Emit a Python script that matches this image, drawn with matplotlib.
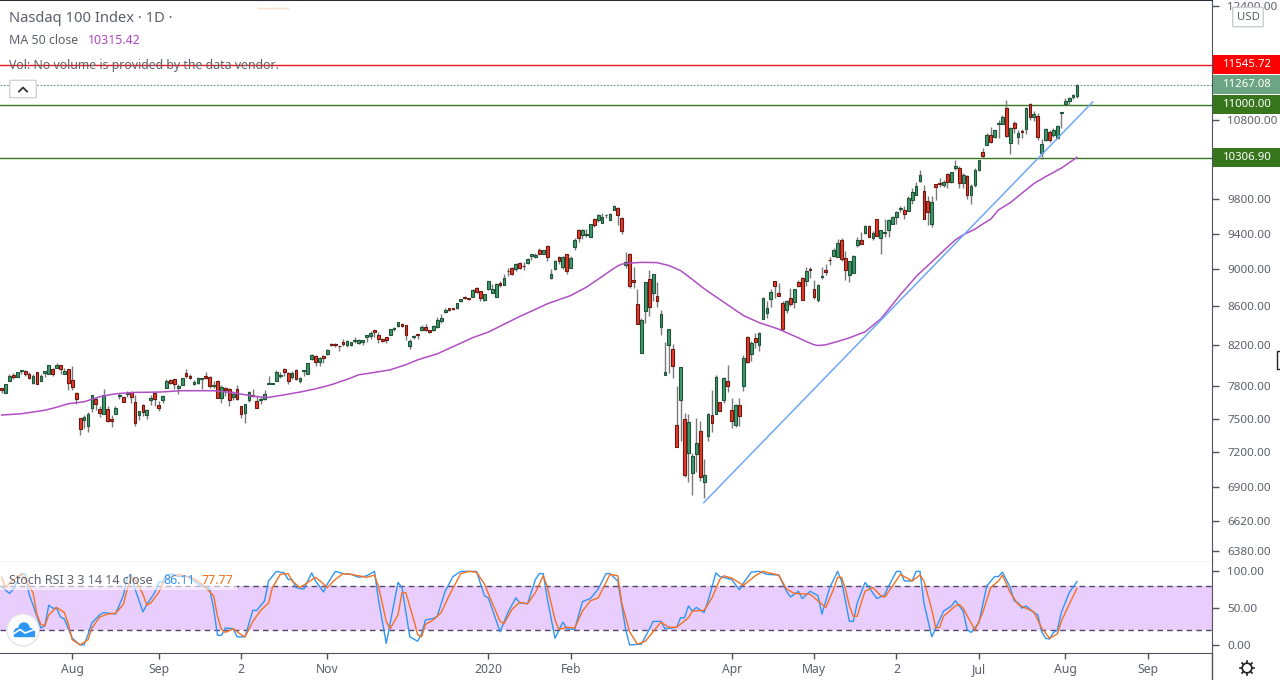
import matplotlib
matplotlib.use("Agg")
import matplotlib.pyplot as plt
import matplotlib.patches as patches
from matplotlib.ticker import FixedLocator, FixedFormatter, NullLocator

plt.rcParams['font.family'] = ['Noto Sans', 'DejaVu Sans']

# daily candles, prices
opens = [7783,7738,7857,7909,7895,7953,7947,7919,7838,7938,
    7848,7934,7915,7967,7982,8006,7915,7967,7861,7738,
    7506,7484,7429,7594,7681,7588,7545,7588,7497,7539,
    7708,7697,7727,7747,7654,7533,7626,7533,7669,7738,
    7626,7669,7790,7861,7871,7781,7813,7928,7899,7823,
    7838,7871,7899,7890,7800,7851,7694,7785,7775,7700,
    7772,7616,7548,7669,7722,7663,7672,7678,7827,7819,
    7857,7905,7967,7928,7895,7957,7848,7947,7919,8065,
    8095,8041,8095,8111,8214,8214,8197,8234,8204,8200,
    8240,8224,8230,8284,8295,8355,8305,8264,8284,8305,
    8365,8395,8416,8405,8190,8284,8315,8361,8385,8355,
    8361,8382,8453,8540,8582,8588,8582,8655,8698,8694,
    8704,8794,8762,8672,8790,8747,8704,8848,8832,8981,
    9011,9000,9066,9036,9072,9150,9139,9211,9173,9256,
    8902,9003,9132,9028,9166,9017,9251,9437,9387,9384,
    9365,9569,9561,9526,9612,9561,9674,9694,9577,9043,
    9169,8880,8624,8124,8557,8891,8740,8708,8382,7910,
    8200,8164,7441,7669,7496,7188,7015,7180,7387,6941,
    7339,7533,7539,7654,7669,7851,7579,7438,7626,7809,
    8284,8120,8274,8200,8474,8536,8683,8869,8740,8634,
    8567,8687,8651,8858,8902,8869,9000,8783,8672,8913,
    8989,9102,9150,9139,9323,9121,8937,8962,9274,9323,
    9403,9484,9353,9565,9353,9403,9437,9514,9589,9682,
    9670,9666,9797,9849,10026,9897,9778,9511,9983,9995,
    9967,10104,10006,10186,10178,9995,10080,9849,9970,10157,
    10380,10476,10596,10579,10740,10744,10950,10493,10752,10579,
    10648,10674,11004,10840,10845,10374,10532,10635,10596,10566,
    10885,11012,11045,11099,11113]
closes = [7769,7823,7902,7890,7938,7957,7915,7881,7902,7819,
    7902,7947,8006,7915,8006,7973,7947,7838,7791,7678,
    7402,7515,7542,7719,7632,7548,7719,7475,7475,7598,
    7716,7650,7735,7700,7460,7570,7558,7579,7691,7681,
    7594,7710,7851,7838,7819,7804,7881,7905,7886,7842,
    7881,7881,7883,7809,7813,7694,7794,7762,7669,7733,
    7678,7539,7635,7747,7714,7594,7678,7728,7835,7833,
    7938,7909,7938,7857,7928,7867,7881,7957,8025,8105,
    8035,8075,8071,8154,8200,8200,8191,8210,8244,8230,
    8254,8254,8254,8305,8325,8331,8270,8250,8260,8365,
    8375,8436,8395,8305,8244,8297,8305,8385,8355,8341,
    8395,8457,8478,8561,8564,8571,8634,8676,8687,8683,
    8773,8758,8694,8730,8869,8783,8837,8829,8902,8975,
    8952,9061,9017,9030,9117,9166,9158,9173,9211,9135,
    8945,9088,9094,9132,8984,9121,9327,9350,9437,9392,
    9507,9499,9612,9589,9618,9624,9721,9619,9433,9077,
    8822,8865,8422,8457,8865,8592,8945,8662,8519,7938,
    8365,7994,7249,7986,7006,7469,7165,7280,6981,7001,
    7545,7460,7890,7573,7881,7800,7475,7626,7520,8075,
    8041,8224,8230,8325,8687,8582,8751,8822,8715,8368,
    8655,8630,8783,8822,8666,8978,8989,8704,8826,8924,
    8974,9098,9211,9289,9110,8989,9088,9147,9323,9285,
    9484,9365,9403,9376,9437,9415,9553,9589,9647,9694,
    9624,9813,9892,9958,10092,9572,9654,9766,9946,9979,
    10006,10006,10129,10203,9995,10092,9849,9958,10153,10282,
    10333,10596,10514,10661,10757,10832,10592,10688,10696,10622,
    10635,10950,10832,10871,10571,10481,10674,10532,10661,10713,
    10898,11045,11085,11126,11267]
highs = [7785,7823,7919,7931,7938,7957,7960,7938,7919,7938,
    7915,7947,8006,7977,8022,8006,7977,7967,7996,7747,
    7506,7536,7561,7719,7697,7619,7778,7616,7536,7619,
    7738,7703,7754,7760,7722,7570,7635,7588,7722,7738,
    7666,7722,7871,7871,7871,7823,7881,7970,7919,7861,
    7890,7881,7938,7899,7851,7861,7813,7794,7785,7754,
    7813,7616,7635,7757,7775,7719,7700,7766,7899,7833,
    7957,7938,7977,7938,7947,7967,7890,7957,8025,8115,
    8105,8085,8105,8164,8220,8224,8197,8264,8254,8230,
    8284,8264,8254,8305,8345,8355,8338,8274,8284,8365,
    8389,8436,8426,8405,8264,8305,8315,8405,8416,8355,
    8405,8491,8519,8582,8582,8588,8634,8676,8709,8694,
    8783,8805,8762,8730,8869,8837,8848,8869,8945,9011,
    9022,9072,9077,9077,9128,9166,9177,9233,9211,9267,
    9000,9099,9143,9143,9166,9143,9346,9449,9449,9449,
    9507,9577,9624,9635,9628,9639,9733,9706,9589,9192,
    9177,9025,8786,8484,8865,8992,8945,8858,8561,8234,
    8365,8214,7807,7986,7552,7545,7195,7509,7478,7139,
    7552,7769,7909,7654,7890,8006,7691,7635,7691,8105,
    8294,8244,8325,8335,8698,8659,8783,8869,8851,8659,
    8666,8794,8783,8880,8913,9022,9022,8880,8837,9022,
    9055,9132,9233,9335,9346,9199,9088,9154,9358,9415,
    9495,9495,9426,9565,9437,9565,9565,9604,9659,9721,
    9718,9837,9934,10006,10157,9970,9837,9837,9983,10055,
    10030,10116,10129,10282,10203,10116,10092,9982,10178,10282,
    10430,10622,10709,10661,10796,10858,11062,10701,10779,10661,
    10674,10972,11018,10911,10885,10545,10687,10661,10687,10726,
    10898,11085,11099,11140,11279]
lows = [7741,7738,7848,7871,7890,7919,7902,7874,7823,7819,
    7848,7890,7915,7905,7977,7922,7915,7762,7762,7632,
    7348,7417,7375,7564,7576,7517,7545,7469,7420,7539,
    7681,7650,7700,7644,7429,7490,7520,7496,7628,7613,
    7570,7644,7790,7826,7775,7728,7813,7881,7871,7813,
    7823,7778,7871,7785,7785,7688,7640,7710,7613,7675,
    7669,7502,7457,7654,7703,7594,7638,7675,7823,7819,
    7857,7881,7905,7823,7871,7861,7838,7905,7919,8058,
    7999,8002,8031,8105,8190,8187,8150,8197,8187,8194,
    8227,8214,8200,8234,8264,8287,8220,8230,8220,8305,
    8348,8389,8389,8260,8160,8264,8264,8351,8345,8328,
    8351,8375,8432,8530,8554,8564,8571,8645,8683,8669,
    8704,8740,8662,8662,8779,8740,8704,8811,8826,8926,
    8941,8978,9000,8989,9055,9102,9128,9166,9173,9094,
    8891,8989,9055,9006,8952,9017,9217,9301,9342,9365,
    9365,9480,9537,9526,9577,9561,9671,9499,9395,9014,
    8797,8797,8422,8124,8432,8505,8662,8599,8310,7910,
    7934,7886,7241,7294,6981,6946,6829,7024,6953,6808,
    7294,7375,7539,7566,7640,7750,7411,7420,7429,7754,
    8029,8048,8174,8150,8467,8478,8599,8687,8715,8358,
    8536,8609,8588,8811,8666,8822,8902,8676,8651,8891,
    8934,9044,9139,9139,9094,8880,8858,8956,9244,9285,
    9395,9358,9323,9376,9172,9358,9365,9507,9507,9647,
    9572,9659,9749,9849,10014,9565,9495,9480,9789,9946,
    9946,9934,9994,10157,9934,9934,9801,9742,9946,10148,
    10304,10476,10501,10562,10566,10740,10579,10361,10631,10489,
    10566,10618,10792,10779,10532,10298,10519,10514,10579,10553,
    10696,10991,10991,11072,11085]

# moving average, read at the bends
ma_bars = [0,5,11,14,17,21,25,28,30,34,40,46,54,59,62,65,68,71,76,80,84,88,91,95,99,103,106,111,117,120,124,128,132,136,
    139,145,149,153,155,157,158,160,163,167,170,173,176,178,180,185,189,193,198,203,205,207,208,210,213,216,220,224,
    226,229,231,233,236,238,240,243,245,248,250,252,254,257,261,263,266,270,274]
ma_vals = [7533,7545,7577,7605,7638,7656,7703,7725,7734,7744,7747,7760,7760,7741,7722,7703,7697,7715,7747,7778,7817,7868,
    7912,7935,7960,8010,8058,8117,8224,8278,8335,8415,8495,8570,8627,8715,8805,8919,8980,9036,9055,9066,9075,9072,
    9040,8984,8888,8820,8758,8617,8505,8432,8365,8277,8240,8207,8200,8207,8240,8277,8338,8470,
    8570,8724,8820,8919,9040,9121,9205,9327,9385,9450,9510,9565,9674,9760,9913,9990,10075,10180,10315]

# stochastic rsi
k_bars = [0,2,3,5,6,7,9,10,11,12,13,14,15,16,18,20,21,22,23,25,26,29,31,32,33,34,36,37,39,40,41,42,44,45,47,49,51,53,
    54,55,56,57,59,60,62,64,65,67,68,70,72,73,74,75,77,79,80,82,83,85,87,89,91,93,95,96,98,101,102,104,106,107,
    108,110,111,113,115,117,121,123,124,127,129,131,132,134,136,137,138,139,141,143,144,146,148,150,152,154,155,157,
    159,160,163,165,166,168,169,172,173,174,175,176,177,179,180,182,183,186,188,189,191,193,195,198,200,201,203,204,
    206,208,209,211,213,214,215,216,217,218,220,221,223,225,226,228,229,230,232,233,234,235,237,239,240,242,243,245,
    246,247,249,251,253,254,255,257,258,259,260,261,263,264,265,266,267,268,269,270,272,274]
k_vals = [79,70,76,97,96,69,39,23,26,54,50,50,38,35,9,0,0,14,30,41,44,42,67,92,96,76,45,55,71,85,86,96,96,93,94,87,80,76,
    50,13,13,23,22,11,11,47,47,60,87,100,98,89,89,78,76,98,87,72,83,100,97,96,92,94,100,62,2,85,78,11,5,15,
    34,36,39,73,93,100,100,67,64,18,44,64,57,56,89,97,97,64,9,31,22,21,59,63,76,97,97,87,
    21,0,1,21,32,32,22,24,37,37,53,46,51,44,60,98,93,89,75,84,99,100,96,95,73,65,73,63,
    73,67,42,78,100,87,60,32,32,57,85,78,63,68,80,100,100,87,87,100,100,57,11,34,46,53,60,46,
    21,17,30,80,93,93,99,78,60,57,50,53,44,41,18,9,8,17,20,44,71,86]
d_bars = [0,1,3,5,6,8,9,10,11,12,14,16,17,18,20,22,23,25,27,29,31,32,33,34,36,37,38,40,41,42,45,47,49,51,54,55,56,57,
    59,61,62,64,66,68,69,71,73,74,76,78,80,82,83,85,87,89,91,93,95,96,98,99,101,102,103,105,106,107,
    108,110,112,114,116,117,119,121,123,125,127,128,130,132,134,136,138,139,141,142,144,146,148,150,152,154,155,157,
    158,160,162,164,166,168,170,172,175,176,179,181,183,184,186,189,192,194,198,200,202,206,208,210,212,213,
    214,215,216,217,218,219,220,222,224,225,227,229,232,234,235,237,238,239,240,243,244,245,247,248,250,252,254,255,
    257,259,261,263,265,267,269,270,272,274]
d_vals = [92,78,89,96,89,71,41,28,26,41,51,44,28,7,0,7,23,38,42,43,55,76,92,89,69,54,57,71,83,90,96,93,90,83,67,39,21,17,
    22,14,11,32,47,57,78,96,97,87,78,85,92,83,78,89,97,96,94,92,95,80,32,22,41,71,71,34,14,11,
    28,34,44,67,87,97,100,99,83,57,32,29,48,58,56,71,94,80,34,21,24,23,46,60,64,85,96,94,
    57,18,1,5,18,31,24,24,37,46,47,64,89,94,91,81,94,100,95,76,70,69,60,51,76,92,
    92,76,53,39,39,57,73,78,67,65,80,96,87,95,87,48,23,24,39,53,55,50,30,20,44,78,87,95,
    71,55,50,45,23,9,15,32,55,77]

tick_bars = [18,40,61,83,124,145,186,207,228,249,271,292]
tick_names = ['Aug','Sep','2','Nov','2020','Feb','Apr','May','2','Jul','Aug','Sep']
price_ticks = [6380,6620,6900,7200,7500,7800,8200,8600,9000,9400,9800,10800,12400]
last_close = 11267.08
level_red = 11545.72
level_green = [11000.00, 10306.90]
trend_bars = [178.9, 278]
trend_prices = [6770, 11035]
stoch_ticks = [0, 50, 100]

W, H = 1280.0, 680.0
GRAY = '#5d606b'

def fx(x):
    return x / W

def fy(y):
    return 1 - y / H

def label(x, y, s, color=GRAY, size=8.9, **kw):
    fig.text(fx(x), fy(y), s, color=color, fontsize=size, va='center', **kw)

fig = plt.figure(figsize=(12.8, 6.8), dpi=100, facecolor='white')
ax = fig.add_axes([0, fy(562), 1212 / W, 562 / H])
ax2 = fig.add_axes([0, fy(653), 1212 / W, 91 / H], sharex=ax)

# main pane
ax.set_yscale('log')
ax.set_xlim(-0.42, 308.4)
ax.set_ylim(6297, 12497)

for i in range(len(opens)):
    up = closes[i] >= opens[i]
    ax.vlines(i, lows[i], highs[i], color='#7a7a7a', lw=1, zorder=2)
    ax.bar(i, abs(closes[i] - opens[i]), bottom=min(opens[i], closes[i]), width=0.7,
           color='#3f9a6c' if up else '#e8392b', edgecolor='#1f5236' if up else '#6b1a12',
           linewidth=0.8, zorder=3)

ax.plot(ma_bars, ma_vals, color='#b04fc4', lw=1.1, zorder=4)
ax.plot(trend_bars, trend_prices, color='#6fa8f5', lw=1.1, zorder=4)
ax.axhline(level_red, color='#e8181a', lw=1, zorder=1)
for lv in level_green:
    ax.axhline(lv, color='#38761d', lw=1, zorder=1)
ax.axhline(last_close, color='#5f9a78', lw=0.8, ls=(0, (1.5, 1.5)), zorder=1)

ax.yaxis.tick_right()
ax.yaxis.set_major_locator(FixedLocator(price_ticks))
ax.yaxis.set_major_formatter(FixedFormatter(['%.2f' % p for p in price_ticks]))
ax.yaxis.set_minor_locator(NullLocator())
ax.tick_params(axis='y', length=5, width=1, color='#50535e', labelcolor=GRAY, labelsize=8.4, pad=6)
ax.tick_params(axis='x', bottom=False, labelbottom=False)
ax.spines['left'].set_visible(False)
ax.spines['top'].set_color('#2a2e39')
ax.spines['top'].set_linewidth(1.5)
ax.spines['right'].set_color('#50535e')
ax.spines['bottom'].set_color('#50535e')

# stoch pane
ax2.set_ylim(-11, 112.8)
ax2.axhspan(20, 80, color='#e8cdfd', lw=0, zorder=0)
ax2.axhline(80, color='#54456a', lw=1, ls=(0, (4, 3)), zorder=1)
ax2.axhline(20, color='#54456a', lw=1, ls=(0, (4, 3)), zorder=1)
ax2.plot(k_bars, k_vals, color='#2f97f3', lw=1, zorder=2)
ax2.plot(d_bars, d_vals, color='#f5701f', lw=1, zorder=3)
ax2.yaxis.tick_right()
ax2.set_yticks(stoch_ticks)
ax2.set_yticklabels(['%.2f' % v for v in stoch_ticks])
ax2.set_xticks(tick_bars)
ax2.set_xticklabels(tick_names)
ax2.get_xticklabels()[4].set_fontweight('bold')
ax2.tick_params(axis='y', length=5, width=1, color='#50535e', labelcolor=GRAY, labelsize=8.4, pad=6)
ax2.tick_params(axis='x', length=4, width=1, color='#50535e', labelcolor=GRAY, labelsize=8.8, pad=3)
ax2.spines['left'].set_visible(False)
ax2.spines['top'].set_visible(False)
ax2.spines['right'].set_color('#50535e')
ax2.spines['bottom'].set_color('#50535e')

# price tags on the scale
def price_tag(price, color, h=19):
    y = H - ax.transData.transform((0, price))[1]
    fig.add_artist(patches.Rectangle((fx(1213), fy(y + h / 2)), 67 / W, h / H, transform=fig.transFigure,
                                     facecolor=color, edgecolor='none', zorder=5))
    t = fig.text(fx(1223), fy(y), '%.2f' % price, color='white', fontsize=8.2, fontweight='bold', va='center')
    t.set_zorder(6)

price_tag(level_red, '#ff0000')
price_tag(last_close, '#6ba583')
price_tag(level_green[0], '#38761d')
price_tag(level_green[1], '#38761d')

# legends
label(9, 18, 'Nasdaq 100 Index · 1D ·', size=10.6)
label(9, 41, 'MA 50 close')
label(88, 41, '10315.42', color='#ab47bc')
label(9, 65, 'Vol: No volume is provided by the data vendor.')

fig.add_artist(patches.FancyBboxPatch((fx(11), fy(97)), 24 / W, 16 / H, boxstyle='round,pad=0.001',
                                      transform=fig.transFigure, facecolor='white', edgecolor='#d0d3da', lw=1))
fig.add_artist(plt.Line2D([fx(19), fx(23), fx(27)], [fy(91.5), fy(87.5), fy(91.5)], color='#333333', lw=1.3))

# usd box
fig.add_artist(patches.FancyBboxPatch((fx(1234), fy(26)), 28 / W, 18 / H, boxstyle='round,pad=0.001',
                                      transform=fig.transFigure, facecolor='white', edgecolor='#c9ccd3', lw=1, zorder=5))
t = fig.text(fx(1248), fy(17), 'USD', color=GRAY, fontsize=8.2, ha='center', va='center')
t.set_zorder(6)

# stoch title with its white backing
fig.add_artist(patches.Rectangle((0, fy(590)), 237 / W, 26 / H, transform=fig.transFigure,
                                 facecolor='white', alpha=0.6, edgecolor='none', zorder=4))
for x, s, c in [(9, 'Stoch RSI 3 3 14 14 close', GRAY), (163, '86.11', '#2f97f3'), (202, '77.77', '#f5701f')]:
    t = fig.text(fx(x), fy(580), s, color=c, fontsize=9, va='center')
    t.set_zorder(6)

# logo badge, drawn in pixel space
logo = fig.add_axes([0, 0, 1, 1], facecolor='none', zorder=7)
logo.set_xlim(0, W)
logo.set_ylim(H, 0)
logo.axis('off')
logo.add_patch(plt.Circle((23, 630), 16, facecolor='white', edgecolor='#e3e3ea', lw=1))
logo.add_patch(plt.Circle((18, 632), 3.5, color='#2f97f3'))
logo.add_patch(plt.Circle((24, 628), 5, color='#2f97f3'))
logo.add_patch(plt.Circle((30, 632), 3.5, color='#2f97f3'))
logo.add_patch(patches.Rectangle((14, 631), 19.5, 4.5, color='#2f97f3'))
logo.plot([14, 20, 25, 33], [633.5, 629.5, 633, 630], color='white', lw=1.2)

# settings gear
logo.add_patch(plt.Circle((1247, 668), 4.8, facecolor='white', edgecolor='#222222', lw=1.2))
for dx, dy in [(0, -7), (0, 7), (-7, 0), (7, 0), (-5, -5), (5, 5), (-5, 5), (5, -5)]:
    logo.plot([1247 + dx * 0.7, 1247 + dx], [668 + dy * 0.7, 668 + dy], color='#222222', lw=1.2)
logo.plot([1212, 1212], [653, 680], color='#50535e', lw=1)

# cursor stub on the right edge and the faint marker at the top
logo.add_patch(patches.Rectangle((1277, 351), 5, 18, facecolor='white', edgecolor='#222222', lw=1))
logo.plot([258, 288], [8, 8], color='#fbe0d0', lw=1)

fig.savefig('out.png', dpi=100)
